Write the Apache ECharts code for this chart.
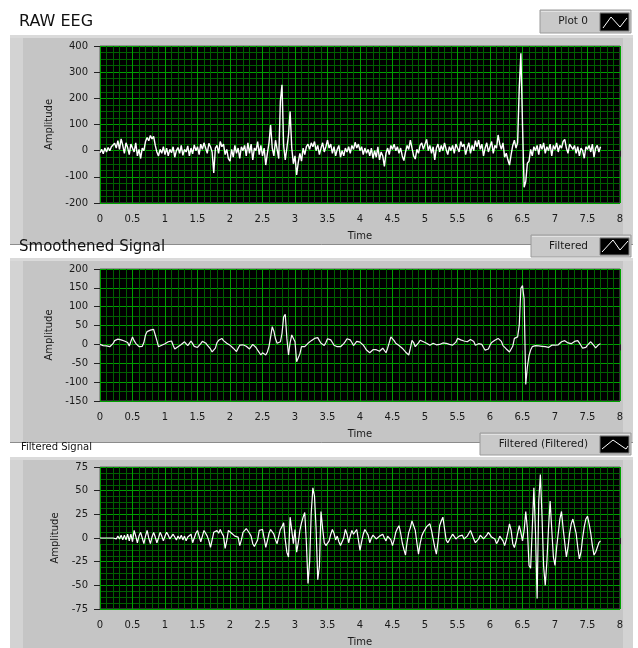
<!DOCTYPE html>
<html>
<head>
<meta charset="utf-8">
<script src="https://cdn.jsdelivr.net/npm/echarts@6/dist/echarts.min.js"></script>
<style>
html,body{margin:0;padding:0;background:#fff;}
#chart{width:638px;height:648px;}
</style>
</head>
<body>
<div id="chart"></div>
<script>
// ---- Data (sampled every 0.025 s, starting at t = 0) ----
const timeStep = 0.025;

const rawEEG = [
  -8, 5, -12, 10, -5, 12, 0, 15, 8, 28, 10, 38, 5, 45, 20, -10, 30, 12, -15, 25,
  18, -5, 30, -20, 5, -30, 10, 0, 35, 50, 38, 58, 45, 55, 20, -5, -20, 5, -10, 15,
  -15, 10, -20, 5, -8, 15, -25, 0, 12, -10, 20, -18, 5, -5, 18, -20, 10, -12, 22, 0,
  15, -15, 25, 5, 30, 10, -10, 28, 15, -5, -85, 10, 20, -10, 35, 15, 25, -15, 5, -30,
  -40, 5, -25, 20, -10, 10, -30, 15, 0, 20, -20, 30, -10, 25, -35, 10, 0, 35, -15, 20,
  -20, 10, -55, -10, 30, 98, 10, -20, 40, 5, -30, 190, 252, 20, -35, 10, 60, 150, 10, -50,
  -20, -93, -45, -10, -40, 10, -15, 15, 25, 5, 30, 15, 35, 0, 20, -15, 10, 30, -5, 15,
  40, 10, 25, -10, 15, -20, 5, 20, -25, 0, -20, 10, -5, 15, -10, 20, 5, 32, 10, 25,
  0, 15, -15, 10, -10, 5, -20, 10, -30, 0, -25, 15, -35, -5, -20, -60, -10, 10, -15, 20,
  5, 25, 0, 15, -10, 10, -20, -38, -5, 20, 5, 40, 10, -20, -32, 5, -10, 20, 30, 5,
  25, 43, 0, 20, -10, 15, -35, 10, 25, -5, 20, 0, 30, 5, -15, 15, 0, 20, -10, 25,
  10, -5, 35, 15, 25, -15, 10, 30, -10, 20, 0, 38, 15, 40, 5, 25, -20, 10, 30, -5,
  15, 35, -10, 20, 10, 60, 25, 5, 30, -25, -10, -35, -55, -15, 20, 40, 10, 30, 240, 372,
  100, -140, -118, -48, -40, 5, -20, 15, 0, 20, -15, 25, 5, 30, -10, 15, 0, 25, -20, 20,
  5, 30, -5, 20, 10, 35, 43, 10, -10, 25, 30, 5, 20, -10, 15, -20, 10, 0, -29, 15,
  5, 20, -5, 25, -25, 10, 20, -5, 15
];

const smoothedSignal = [
  0, -2, -3, -1, -4, -6, -6, -3, 2, 10, 12, 14, 16, 12, 7, 9, 11, 5, -4, 8,
  20, 10, 3, -2, -6, -6, -5, 5, 25, 34, 36, 38, 37, 40, 25, 10, -6, -4, -2, 0,
  2, 5, 7, 8, 9, -2, -12, -10, -6, -3, 0, 3, 7, 2, -3, 3, 9, 2, -5, -10,
  -8, -6, 2, 8, 11, 4, -2, -6, -12, -20, -24, -10, 5, 11, 14, 16, 10, 6, 3, 0,
  -2, -6, -10, -15, -19, -10, -2, -4, -1, -3, -5, -8, -12, -6, 0, -4, -8, -15, -20, -28,
  -22, -19, -28, -20, -5, 20, 47, 35, 15, 3, 5, 7, 29, 73, 80, 16, -28, 5, 25, 29,
  7, -46, -50, -25, -6, -4, -6, -2, 3, 7, 10, 13, 16, 18, 18, 10, 3, 0, -3, 5,
  15, 20, 12, 5, -2, -4, -6, -9, -6, -2, 2, 8, 15, 20, 12, 5, -3, 2, 8, 11,
  6, 3, -2, -8, -15, -18, -22, -18, -14, -12, -14, -16, -18, -14, -10, -15, -22, -10, 5, 20,
  15, 10, 3, 0, -3, -6, -10, -15, -20, -25, -28, -10, 11, 5, -6, -2, 4, 11, 9, 7,
  5, 3, 0, -2, 1, 3, 1, -1, -2, 0, 2, 4, 5, 3, 1, 0, 0, -2, -3, 6,
  16, 14, 12, 11, 9, 8, 7, 10, 13, 16, 8, -2, 0, 2, 3, 0, -8, -15, -14, -12,
  -2, 5, 8, 11, 11, 16, 20, 8, -3, -8, -12, -15, -20, -24, -5, 16, 18, 20, 51, 149,
  156, 120, -106, -60, -30, -15, -6, -4, -3, -5, -4, -6, -5, -3, -6, -9, -8, -4, -2, -3,
  -2, -3, -1, 3, 7, 11, 10, 6, 4, 3, 2, 5, 8, 11, 10, 4, -3, -10, -15, -8,
  -2, 2, 7, 5, -3, -9, -5, 0, 2
];

const filteredSignal = [
  0, 0, 0, 0, 0, 0, 0, 1, 0, 2, -1, 2, -1, 3, -2, 3, -2, 4, -3, 4,
  -4, 8, 2, -5, 2, 6, 0, -6, 2, 8, 0, -6, 1, 6, 1, -5, 0, 6, 2, -3,
  2, 6, 3, -1, 1, 4, 1, -2, 2, -1, 3, -2, 2, -3, 1, 2, 4, -5, 0, 5,
  8, 2, -4, 2, 8, 5, 2, -3, -10, -2, 6, 4, 8, 5, 9, 5, 2, -11, -3, 8,
  6, 5, 4, 2, 3, 1, -8, -2, 6, 8, 10, 11, 5, 2, -6, -9, -11, -2, 8, 9,
  9, 0, -10, -3, 5, 9, 8, 4, -2, -6, 2, 9, 12, 16, -2, -15, -20, 22, 8, -6,
  9, -15, -5, 8, 16, 22, 27, -5, -48, -25, 27, 53, 44, 9, -44, -30, 28, 10, -5, -8,
  -10, -3, 4, 9, 5, -2, 2, -4, -8, -10, 0, 9, 4, -5, 2, 8, 4, 6, 9, -2,
  -13, -4, 4, 9, 6, 3, -5, 0, 3, 1, -1, -1, 2, 4, 4, 0, -3, 2, 3, -2,
  -8, -2, 6, 10, 13, 5, -5, -12, -18, -4, 6, 11, 18, 20, 8, -5, -17, -6, 2, 6,
  9, 12, 14, 15, 8, -1, -10, -17, -4, 13, 18, 22, 10, -2, -5, -3, 1, 4, 2, -1,
  -1, 2, 0, 3, -1, -3, 2, 5, 8, 6, -1, -5, -6, -1, 3, 2, -1, -1, 3, 6,
  4, 1, 3, -1, -6, -3, 2, 4, -3, -8, -2, 6, 15, 8, -6, -10, -4, 5, 13, 6,
  -3, 8, 28, 10, -29, -32, 10, 53, 5, -64, 39, 67, 23, -30, -50, -25, 10, 39, 9, -20,
  -29, -10, 5, 20, 28, 10, -5, -20, -10, 5, 15, 20, 22, 5, -10, -22, -15, 0, 12, 20,
  23, 15, 5, -8, -18, -15, -13, -5, -3
];

// axis ranges [min, max, interval]
const timeRange = [0, 8, 0.5];
const rawRange = [-200, 400, 100];
const smoothRange = [-150, 200, 50];
const filtRange = [-75, 75, 25];

const panelTitles = ['RAW EEG', 'Smoothened Signal', 'Filtered Signal'];
const legendNames = ['Plot 0', 'Filtered', 'Filtered (Filtered)'];
const xName = 'Time';
const yName = 'Amplitude';

// ---- Chart ----
const FONT = '"DejaVu Sans", Verdana, sans-serif';
const MAJOR = '#00a000';
const MINOR = '#006000';
const toPairs = arr => arr.map((v, i) => [+(i * timeStep).toFixed(3), v]);

const grids = [
  {left: 100, top: 46, width: 520, height: 157},
  {left: 100, top: 269, width: 520, height: 132},
  {left: 100, top: 467, width: 520, height: 144}
].map(g => Object.assign(g, {show: true, backgroundColor: '#000', borderColor: '#5a5a5a', borderWidth: 1}));

function xAxisCfg(gi) {
  return {
    type: 'value', gridIndex: gi, min: timeRange[0], max: timeRange[1], interval: timeRange[2],
    offset: 2,
    axisLine: {show: false},
    axisTick: {show: true, length: 6, lineStyle: {color: '#222', width: 1}},
    axisLabel: {color: '#1a1a1a', fontFamily: FONT, fontSize: 10, margin: 9},
    splitLine: {show: true, lineStyle: {color: MAJOR, width: 1}},
    minorTick: {show: false, splitNumber: 5},
    minorSplitLine: {show: true, lineStyle: {color: MINOR, width: 1, opacity: 1}},
    name: xName, nameLocation: 'middle', nameGap: 26,
    nameTextStyle: {color: '#1a1a1a', fontFamily: FONT, fontSize: 10}
  };
}
function yAxisCfg(gi, r, minorN) {
  return {
    type: 'value', gridIndex: gi, min: r[0], max: r[1], interval: r[2],
    offset: 3,
    axisLine: {show: false},
    axisTick: {show: true, length: 6, lineStyle: {color: '#222', width: 1}},
    axisLabel: {color: '#1a1a1a', fontFamily: FONT, fontSize: 10, margin: 9},
    splitLine: {show: true, lineStyle: {color: MAJOR, width: 1}},
    minorTick: {show: false, splitNumber: minorN},
    minorSplitLine: {show: true, lineStyle: {color: MINOR, width: 1, opacity: 1}},
    name: yName, nameLocation: 'middle', nameGap: 29, nameRotate: 90,
    nameTextStyle: {color: '#1a1a1a', fontFamily: FONT, fontSize: 10}
  };
}

function panel(y, h) {
  return [
    {type: 'rect', z: -10, silent: true, shape: {x: 10, y: y, width: 623, height: h}, style: {fill: '#c5c5c5'}},
    {type: 'rect', z: -9, silent: true, shape: {x: 10, y: y, width: 13, height: h}, style: {fill: '#d3d3d3'}},
    {type: 'rect', z: -9, silent: true, shape: {x: 623, y: y, width: 10, height: h}, style: {fill: '#d3d3d3'}},
    {type: 'rect', z: -9, silent: true, shape: {x: 10, y: y, width: 623, height: 3}, style: {fill: '#dadada'}}
  ];
}
function legendBox(x, y, w, h, name, icon) {
  return [
    {type: 'rect', z: 3, silent: true, shape: {x: x, y: y, width: w, height: h}, style: {fill: '#c9c9c9', stroke: '#9a9a9a', lineWidth: 1}},
    {type: 'line', z: 3, silent: true, shape: {x1: x + 1, y1: y + 1.5, x2: x + w - 1, y2: y + 1.5}, style: {stroke: '#e2e2e2', lineWidth: 1}},
    {type: 'text', z: 4, silent: true, style: {text: name, x: 588, y: y + h / 2, textAlign: 'right', textVerticalAlign: 'middle', font: '10.5px ' + FONT, fill: '#1a1a1a'}},
    {type: 'rect', z: 4, silent: true, shape: {x: 600, y: y + 3, width: 29, height: h - 5}, style: {fill: '#000', stroke: '#7a7a7a', lineWidth: 1}},
    {type: 'polyline', z: 5, silent: true, shape: {points: icon}, style: {stroke: '#fff', lineWidth: 1, fill: null}}
  ];
}

const graphics = [].concat(
  panel(35, 210),
  [{type: 'line', z: -8, silent: true, shape: {x1: 10, y1: 244.5, x2: 633, y2: 244.5}, style: {stroke: '#8c8c8c', lineWidth: 1}}],
  panel(258, 185),
  [{type: 'line', z: -8, silent: true, shape: {x1: 10, y1: 442.5, x2: 633, y2: 442.5}, style: {stroke: '#8c8c8c', lineWidth: 1}}],
  panel(457, 191),
  [
    {type: 'text', z: 6, silent: true, style: {text: panelTitles[0], x: 19, y: 22, textVerticalAlign: 'middle', font: '16px ' + FONT, fill: '#111'}},
    {type: 'text', z: 6, silent: true, style: {text: panelTitles[1], x: 19, y: 247, textVerticalAlign: 'middle', font: '15px ' + FONT, fill: '#111'}},
    {type: 'text', z: 6, silent: true, style: {text: panelTitles[2], x: 21, y: 447, textVerticalAlign: 'middle', font: '10px ' + FONT, fill: '#111'}}
  ],
  legendBox(540, 10, 91, 23, legendNames[0], [[603, 28], [611, 17], [620, 27], [627, 18]]),
  legendBox(531, 235, 100, 22, legendNames[1], [[602, 252], [613, 240], [620, 250], [628, 241]]),
  legendBox(480, 433, 151, 22, legendNames[2], [[602, 449], [613, 440], [623, 447], [626, 449], [628, 446]])
);

const chart = echarts.init(document.getElementById('chart'), null, {renderer: 'canvas'});
chart.setOption({
  animation: false,
  backgroundColor: '#fff',
  grid: grids,
  xAxis: [xAxisCfg(0), xAxisCfg(1), xAxisCfg(2)],
  yAxis: [yAxisCfg(0, rawRange, 4), yAxisCfg(1, smoothRange, 2), yAxisCfg(2, filtRange, 4)],
  series: [
    {name: legendNames[0], type: 'line', xAxisIndex: 0, yAxisIndex: 0, data: toPairs(rawEEG), showSymbol: false, lineStyle: {color: '#fff', width: 1.4}},
    {name: legendNames[1], type: 'line', xAxisIndex: 1, yAxisIndex: 1, data: toPairs(smoothedSignal), showSymbol: false, lineStyle: {color: '#f4f4f4', width: 1.2}},
    {name: legendNames[2], type: 'line', xAxisIndex: 2, yAxisIndex: 2, data: toPairs(filteredSignal), showSymbol: false, lineStyle: {color: '#fff', width: 1.2}}
  ],
  graphic: graphics
});
</script>
</body>
</html>
